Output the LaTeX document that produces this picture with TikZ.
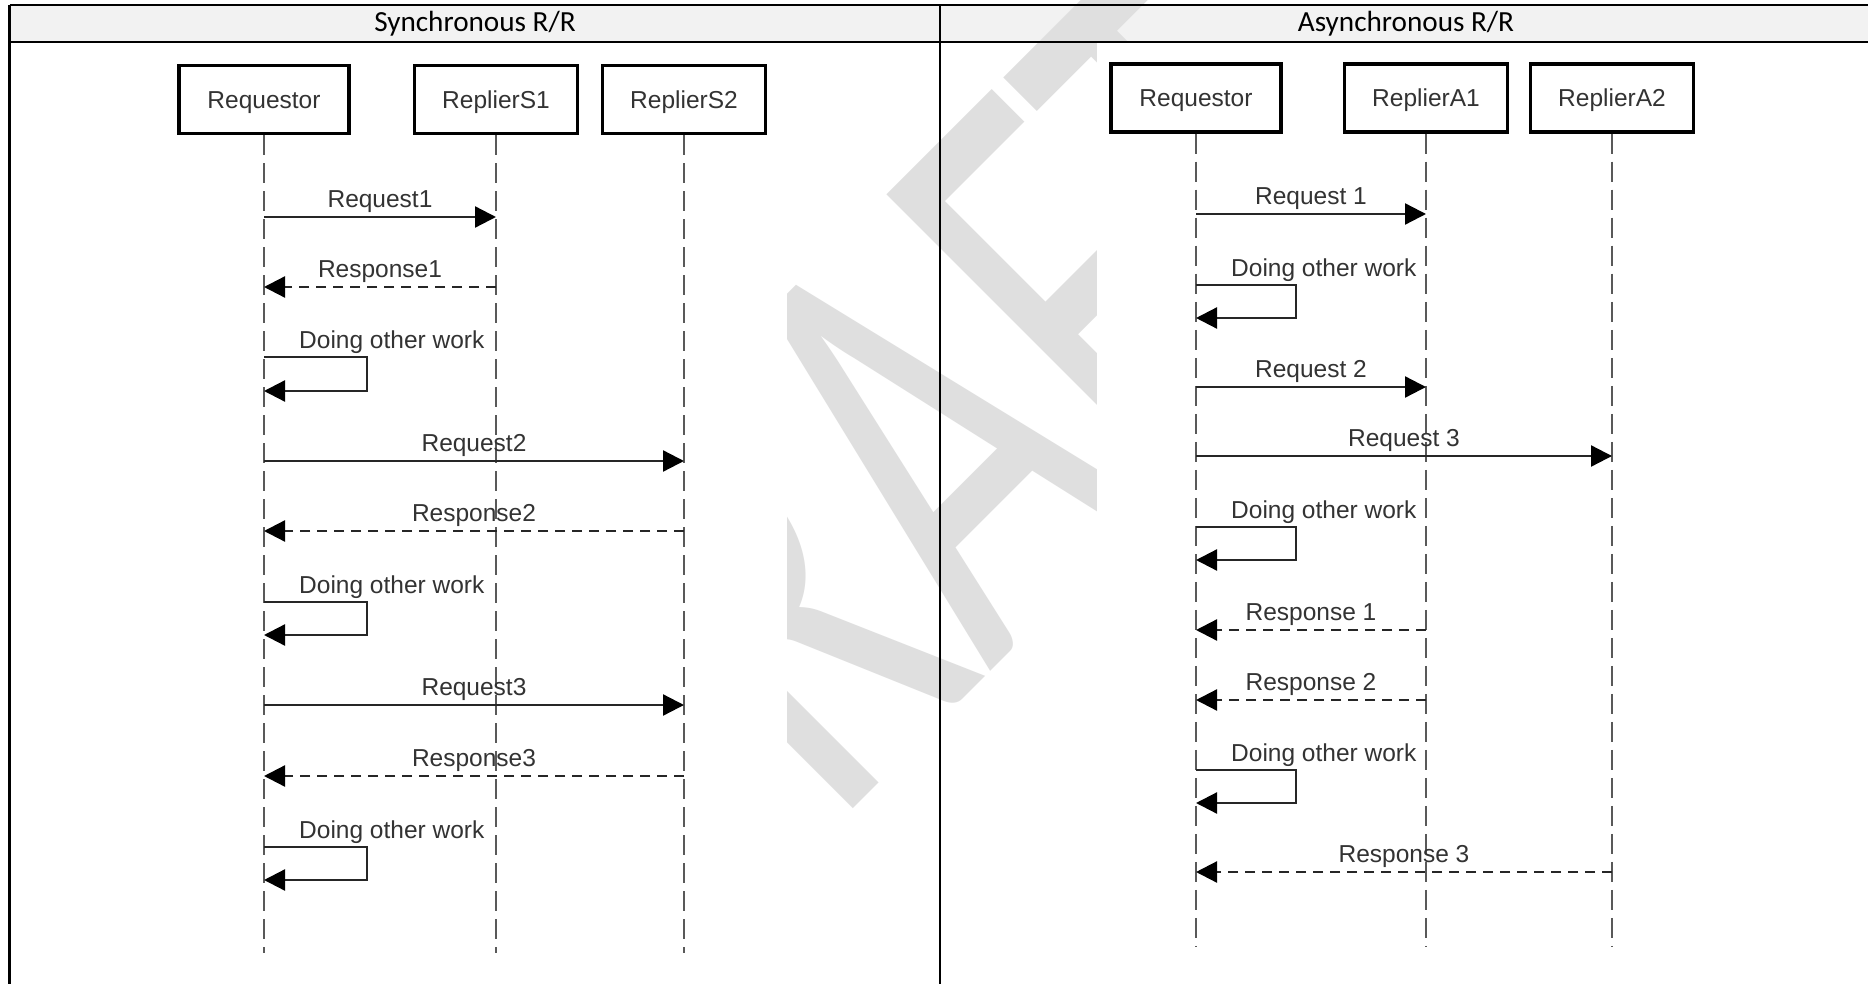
\documentclass[tikz,border=0pt]{standalone}
\usepackage{fontspec}
\setmainfont{Liberation Sans}
\newfontfamily\calfont{Carlito}
\usetikzlibrary{arrows.meta}
\definecolor{wmgray}{HTML}{DFDFDF}
\definecolor{headgray}{HTML}{F2F2F2}
\definecolor{inkgray}{HTML}{333333}
\newcommand{\seqfont}{\fontsize{24.5}{28}\selectfont}
\tikzset{
  actor/.style={draw=black, line width=3.5pt, fill=white, minimum width=163pt, minimum height=68pt, inner sep=0pt, text height=17.5pt, text depth=0pt, text=inkgray, font=\seqfont},
  life/.style={draw=black!65, line width=2pt, dash pattern=on 20pt off 8pt},
  call/.style={draw=black!85, line width=2.3pt, -{Triangle[length=21pt,width=21pt,fill=black,color=black]}},
  reply/.style={call, dash pattern=on 10pt off 7pt},
  msglbl/.style={above, text=inkgray, font=\seqfont, inner sep=3pt},
  rule/.style={line width=2.5pt},
}

\begin{document}
\begin{tikzpicture}[x=1pt,y=-1pt]
\useasboundingbox (0,0) rectangle (1868,984);
\fill[white] (0,0) rectangle (1868,984);
% header row and watermark
\fill[headgray] (9.5,5) rectangle (1872,42);
\node[text=wmgray, rotate=45, anchor=base west, inner sep=0pt, font=\calfont\fontsize{410}{410}\selectfont] (wm) at (654,1008) {\scalebox{1}[1.56]{DRAFT}};
\fill[white] (159,42) rectangle (787,990);
\fill[white] (1097,42) rectangle (1710,990);
\draw[rule] (9.5,5) -- (1872,5);
\draw[rule] (9.5,42) -- (1872,42);
\draw[rule] (9.5,5) -- (9.5,990);
\draw[rule] (940,5) -- (940,990);
\node[font=\calfont\fontsize{29.2}{34}\selectfont] (hsync) at (475,24) {Synchronous R/R};
\node[font=\calfont\fontsize{29.2}{34}\selectfont] (hasync) at (1406,24) {Asynchronous R/R};

% synchronous
\node[actor, minimum width=170pt] (reqS) at (264,99.5) {Requestor};
\node[actor] (repS1) at (496,99.5) {ReplierS1};
\node[actor] (repS2) at (684,99.5) {ReplierS2};
\coordinate (sEnd) at (0,953);
\draw[life] (reqS.south) -- (reqS |- sEnd);
\draw[life] (repS1.south) -- (repS1 |- sEnd);
\draw[life] (repS2.south) -- (repS2 |- sEnd);

\coordinate (r1) at (0,217);
\coordinate (r2) at (0,287);
\coordinate (w1) at (0,357);
\coordinate (r3) at (0,461);
\coordinate (r4) at (0,531);
\coordinate (w2) at (0,602);
\coordinate (r5) at (0,705);
\coordinate (r6) at (0,776);
\coordinate (w3) at (0,847);

\draw[call] (reqS |- r1) -- node[msglbl] (ls1) {Request1} (repS1 |- r1);
\draw[reply] (repS1 |- r2) -- node[msglbl] (ls2) {Response1} (reqS |- r2);
\draw[call] (reqS |- w1) -- ++(103,0) -- ++(0,34) -- ++(-103,0);
\path (reqS |- w1) ++(32,0) node[msglbl, anchor=south west] (ls3) {Doing other work};
\draw[call] (reqS |- r3) -- node[msglbl] (ls4) {Request2} (repS2 |- r3);
\draw[reply] (repS2 |- r4) -- node[msglbl] (ls5) {Response2} (reqS |- r4);
\draw[call] (reqS |- w2) -- ++(103,0) -- ++(0,33) -- ++(-103,0);
\path (reqS |- w2) ++(32,0) node[msglbl, anchor=south west] (ls6) {Doing other work};
\draw[call] (reqS |- r5) -- node[msglbl] (ls7) {Request3} (repS2 |- r5);
\draw[reply] (repS2 |- r6) -- node[msglbl] (ls8) {Response3} (reqS |- r6);
\draw[call] (reqS |- w3) -- ++(103,0) -- ++(0,33) -- ++(-103,0);
\path (reqS |- w3) ++(32,0) node[msglbl, anchor=south west] (ls9) {Doing other work};

% asynchronous
\node[actor, minimum width=170pt] (reqA) at (1196,98) {Requestor};
\node[actor] (repA1) at (1426,98) {ReplierA1};
\node[actor] (repA2) at (1612,98) {ReplierA2};
\coordinate (aEnd) at (0,947);
\draw[life] (reqA.south) -- (reqA |- aEnd);
\draw[life] (repA1.south) -- (repA1 |- aEnd);
\draw[life] (repA2.south) -- (repA2 |- aEnd);

\coordinate (q1) at (0,214);
\coordinate (v1) at (0,285);
\coordinate (q2) at (0,387);
\coordinate (q3) at (0,456);
\coordinate (v2) at (0,527);
\coordinate (q4) at (0,630);
\coordinate (q5) at (0,700);
\coordinate (v3) at (0,770);
\coordinate (q6) at (0,872);

\draw[call] (reqA |- q1) -- node[msglbl] (la1) {Request 1} (repA1 |- q1);
\draw[call] (reqA |- v1) -- ++(100,0) -- ++(0,33) -- ++(-100,0);
\path (reqA |- v1) ++(32,0) node[msglbl, anchor=south west] (la2) {Doing other work};
\draw[call] (reqA |- q2) -- node[msglbl] (la3) {Request 2} (repA1 |- q2);
\draw[call] (reqA |- q3) -- node[msglbl] (la4) {Request 3} (repA2 |- q3);
\draw[call] (reqA |- v2) -- ++(100,0) -- ++(0,33) -- ++(-100,0);
\path (reqA |- v2) ++(32,0) node[msglbl, anchor=south west] (la5) {Doing other work};
\draw[reply] (repA1 |- q4) -- node[msglbl] (la6) {Response 1} (reqA |- q4);
\draw[reply] (repA1 |- q5) -- node[msglbl] (la7) {Response 2} (reqA |- q5);
\draw[call] (reqA |- v3) -- ++(100,0) -- ++(0,33) -- ++(-100,0);
\path (reqA |- v3) ++(32,0) node[msglbl, anchor=south west] (la8) {Doing other work};
\draw[reply] (repA2 |- q6) -- node[msglbl] (la9) {Response 3} (reqA |- q6);
\end{tikzpicture}
\end{document}
